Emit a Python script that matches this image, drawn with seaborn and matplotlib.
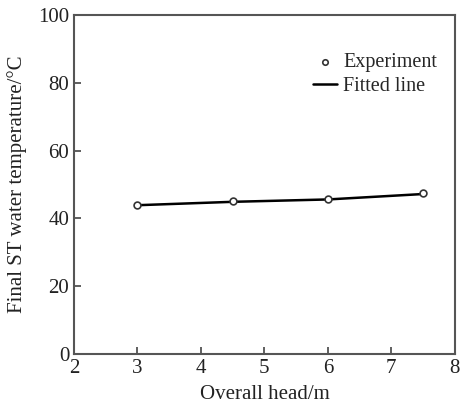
import matplotlib
matplotlib.use('Agg')
import matplotlib.pyplot as plt
import seaborn as sns
import pandas as pd

head = [3, 4.5, 6, 7.5]
temp_exp = [44.0, 45.2, 45.6, 47.6]
temp_fit = [43.9, 44.9, 45.6, 47.2]

sns.set_style('ticks')
plt.rcParams['font.family'] = ['Liberation Serif', 'DejaVu Serif']

df = pd.DataFrame({'head': head, 'exp': temp_exp, 'fit': temp_fit})

fig = plt.figure(figsize=(4.61, 4.08), dpi=100)
ax = fig.add_axes([0.1605, 0.1324, 0.826, 0.8306])

sns.lineplot(data=df, x='head', y='fit', ax=ax, color='black', lw=1.8, label='Fitted line')
sns.scatterplot(data=df, x='head', y='exp', ax=ax, marker='o', s=24, facecolor='white',
                edgecolor='#333333', linewidth=1.2, label='Experiment', zorder=3)

ax.set_xlim(2, 8)
ax.set_ylim(0, 100)
ax.set_xticks(range(2, 9))
ax.set_yticks(range(0, 101, 20))
ax.tick_params(direction='in', length=5, width=1.2, colors='#444444', labelsize=15,
               labelcolor='#222222', top=False, right=False)
for s in ax.spines.values():
    s.set_visible(True)
    s.set_linewidth(1.5)
    s.set_color('#555555')

ax.set_xlabel('Overall head/m', fontsize=15, color='#222222', labelpad=5)
ax.set_ylabel('Final ST water temperature/°C', fontsize=15, color='#222222', labelpad=8)

h, l = ax.get_legend_handles_labels()
leg = ax.legend(h[::-1], l[::-1], loc='upper right', bbox_to_anchor=(0.99, 0.93), frameon=False,
                fontsize=14.5, handlelength=1.2, handletextpad=0.3, labelspacing=0.25,
                borderpad=0.2, markerscale=0.8)

fig.savefig('out.png', dpi=100)
